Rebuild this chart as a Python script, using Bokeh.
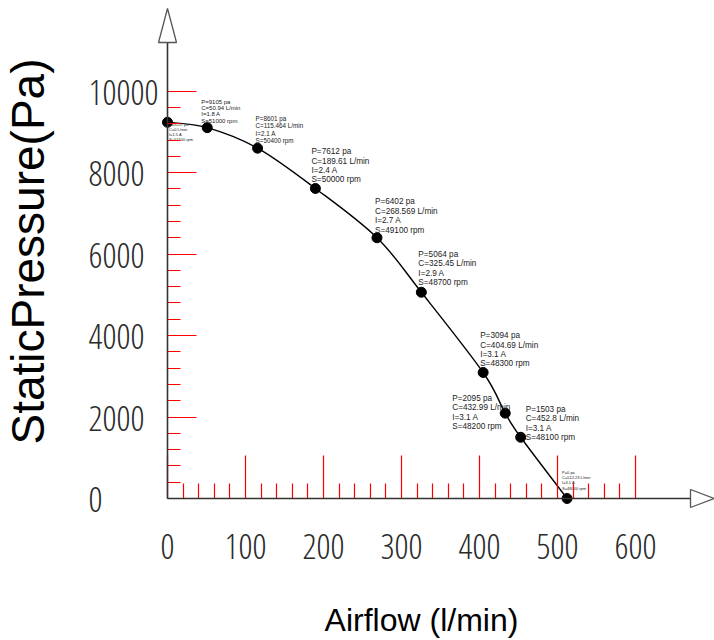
import math
from bokeh.plotting import figure
from bokeh.models import ColumnDataSource, Range1d, LinearAxis, FixedTicker, Label
from bokeh.embed import file_html
from bokeh.resources import INLINE
from bokeh.core.properties import value

# ---------------- data ----------------
airflow = [0, 50.94, 115.464, 189.61, 268.569, 325.45, 404.69, 432.99, 452.8, 512.23]
pressure = [9237, 9105, 8601, 7612, 6402, 5064, 3094, 2095, 1503, 0]
current = [1.5, 1.8, 2.1, 2.4, 2.7, 2.9, 3.1, 3.1, 3.1, 3.1]
speed = [51500, 51000, 50400, 50000, 49100, 48700, 48300, 48200, 48100, 48000]

x_major = [0, 100, 200, 300, 400, 500, 600]
x_minor = [20, 40, 60, 80, 120, 140, 160, 180, 220, 240, 260, 280, 320, 340, 360, 380,
           420, 440, 460, 480, 520, 540, 560, 580]
y_major = [0, 2000, 4000, 6000, 8000, 10000]
y_minor = [400, 800, 1200, 1600, 2400, 2800, 3200, 3600, 4400, 4800, 5200, 5600,
           6400, 6800, 7200, 7600, 8400, 8800, 9200, 9600]
y_tick_labels = ["0", "2000", "4000", "6000", "8000", "10000"]

x_title = "Airflow (l/min)"
y_title = "StaticPressure(Pa)"

# ---------------- label styling (pixel offsets / sizes) ----------------
lab_dx = [1.5, -6, -2, -4, -2, -3, -3, -53, 5, -5]
lab_dy = [20, -4, -4, -4, -3, -5, -4, 18, 5, -8]
lab_fs = ["4px", "6px", "6.3px", "8.2px", "8.2px", "8.2px", "8.2px", "8.2px", "8.2px", "4px"]

# ---------------- layout constants ----------------
FIG_W, FIG_H = 714, 640
OX, OY = 167, 498           # canvas px of data origin
SX = 0.78                   # px per L/min
SY = 0.04073                # px per Pa
YLAB_LEFT = 88              # left edge of the y tick labels (px)


def cx(px):
    return (px - OX) / SX


def cy(py):
    return (OY - py) / SY


p = figure(width=FIG_W, height=FIG_H, output_backend="svg", toolbar_location=None,
           x_axis_type=None, y_axis_type=None,
           x_range=Range1d(cx(0), cx(FIG_W)),
           y_range=Range1d(cy(FIG_H), cy(0)),
           min_border_left=0, min_border_right=0,
           min_border_top=0, min_border_bottom=0)
p.outline_line_color = None
p.background_fill_color = "white"
p.border_fill_color = "white"
p.grid.visible = False

TICK_RED = "red"
LABEL_FONT = ("Open Sans Condensed Light, Open Sans Condensed, Liberation Sans Narrow, "
              "DejaVu Sans Condensed, Roboto Condensed, Roboto")
LABEL_SIZE = "35px"
LABEL_COLOR = "#2a2a2a"

xa = LinearAxis(ticker=FixedTicker(ticks=x_major, minor_ticks=x_minor), fixed_location=0)
xa.major_tick_in, xa.major_tick_out = 43, 0
xa.minor_tick_in, xa.minor_tick_out = 15, 0
xa.major_label_standoff = 35
xa.major_label_text_font = LABEL_FONT
xa.major_label_text_font_size = LABEL_SIZE
xa.major_label_text_color = LABEL_COLOR
xa.major_label_orientation = "horizontal"

ya = LinearAxis(ticker=FixedTicker(ticks=y_major, minor_ticks=y_minor), fixed_location=0)
ya.major_tick_in, ya.major_tick_out = 29, 0
ya.minor_tick_in, ya.minor_tick_out = 13, 0
ya.major_label_text_color = None     # y labels are drawn left-aligned below
for axis, side in ((xa, "below"), (ya, "left")):
    axis.axis_line_color = None
    axis.major_tick_line_color = TICK_RED
    axis.major_tick_line_width = 1.2
    axis.minor_tick_line_color = TICK_RED
    axis.minor_tick_line_width = 1.2
    p.add_layout(axis, side)

# y tick labels, left-aligned like the reference
p.text(x=[cx(YLAB_LEFT)] * len(y_major), y=y_major, text=y_tick_labels,
       text_align="left", text_baseline="middle", y_offset=1,
       text_font=value(LABEL_FONT), text_font_size=LABEL_SIZE, text_color=LABEL_COLOR)

# --- axis lines with open arrow heads (drawn above the ticks) ---
AX_COL = "#333333"
y_base, y_tip = cy(42), cy(8)
x_base, x_tip = cx(690), cx(713.5)
ax_lines = p.segment(x0=[0, 0], y0=[0, 0], x1=[0, x_base], y1=[y_base, 0],
                     line_color=AX_COL, line_width=1.6)
ax_lines.level = "overlay"
half_w = 9
heads = p.patches(xs=[[cx(OX - half_w), cx(OX + half_w), 0],
                      [x_base, x_base, x_tip]],
                  ys=[[y_base, y_base, y_tip],
                      [cy(OY - half_w), cy(OY + half_w), 0]],
                  fill_color="white", line_color="#555555", line_width=1.3)
heads.level = "overlay"

# --- smooth curve through the points (Catmull-Rom as cubic Beziers) ---
n = len(airflow)
bx0, by0, bx1, by1, bcx0, bcy0, bcx1, bcy1 = [], [], [], [], [], [], [], []
for i in range(n - 1):
    a = max(i - 1, 0)
    d = min(i + 2, n - 1)
    bx0.append(airflow[i]); by0.append(pressure[i])
    bx1.append(airflow[i + 1]); by1.append(pressure[i + 1])
    bcx0.append(airflow[i] + (airflow[i + 1] - airflow[a]) / 6)
    bcy0.append(pressure[i] + (pressure[i + 1] - pressure[a]) / 6)
    bcx1.append(airflow[i + 1] - (airflow[d] - airflow[i]) / 6)
    bcy1.append(pressure[i + 1] - (pressure[d] - pressure[i]) / 6)
p.bezier(x0=bx0, y0=by0, x1=bx1, y1=by1, cx0=bcx0, cy0=bcy0, cx1=bcx1, cy1=bcy1,
         line_color="black", line_width=1.4)

p.scatter(airflow, pressure, size=10, fill_color="black", line_color="black")

# --- point annotations ---
texts = [f"P={pv} pa\nC={cv:g} L/min\nI={iv:g} A\nS={sv} rpm"
         for pv, cv, iv, sv in zip(pressure, airflow, current, speed)]
src = ColumnDataSource(dict(x=airflow, y=pressure, text=texts, dx=lab_dx, dy=lab_dy, fs=lab_fs))
p.text(x="x", y="y", text="text", x_offset="dx", y_offset="dy", text_font_size="fs",
       source=src, text_align="left", text_baseline="bottom", text_line_height=1.05,
       text_color="#222222", text_font=value("Liberation Sans"))

# --- axis titles ---
p.add_layout(Label(x=cx(27.5), y=cy(251), text=y_title, angle=math.pi / 2,
                   text_align="center", text_baseline="middle",
                   text_font="Liberation Sans", text_font_size="46px", text_color="black"))
p.add_layout(Label(x=cx(421), y=cy(619), text=x_title,
                   text_align="center", text_baseline="middle",
                   text_font="Liberation Sans", text_font_size="32px", text_color="black"))

open("out.html", "w").write(file_html(p, INLINE))
